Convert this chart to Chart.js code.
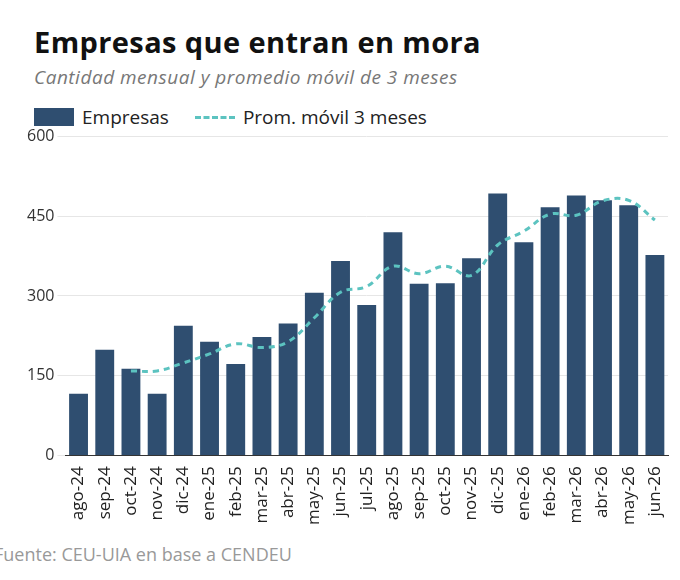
<!DOCTYPE html>
<html>
<head>
<meta charset="utf-8">
<script src="https://cdn.jsdelivr.net/npm/chart.js@4"></script>
<style>
  body { margin: 0; width: 680px; height: 580px; background: #fff; font-family: "Open Sans", sans-serif; overflow: hidden; position: relative; }
  h1 { position: absolute; left: 34px; top: 22px; margin: 0; font-size: 29px; font-weight: 700; color: #111; letter-spacing: 0.4px; }
  .sub { position: absolute; left: 34px; top: 64px; font-size: 19px; font-style: italic; color: #777; letter-spacing: 0.5px; }
  .legend { position: absolute; left: 34px; top: 104px; font-size: 19px; color: #222; display: flex; align-items: center; }
  .box { width: 40px; height: 18px; background: #2f4e70; margin-right: 8px; }
  .dash { width: 40px; border-top: 3px dashed #5cc3c0; margin: 0 8px 0 26px; }
  .foot { position: absolute; left: -6px; top: 542px; font-size: 18px; color: #999; }
  #wrap { position: absolute; left: 0; top: 124px; width: 680px; height: 404px; }
</style>
</head>
<body>
<h1>Empresas que entran en mora</h1>
<div class="sub">Cantidad mensual y promedio móvil de 3 meses</div>
<div class="legend"><span class="box"></span>Empresas<span class="dash"></span>Prom. móvil 3 meses</div>
<div id="wrap"><canvas id="c"></canvas></div>
<div class="foot">Fuente: CEU-UIA en base a CENDEU</div>
<script>
const months = ["ago-24","sep-24","oct-24","nov-24","dic-24","ene-25","feb-25","mar-25","abr-25","may-25","jun-25","jul-25","ago-25","sep-25","oct-25","nov-25","dic-25","ene-26","feb-26","mar-26","abr-26","may-26","jun-26"];
const empresas = [116,199,163,116,244,214,172,223,248,306,366,283,420,323,324,371,493,401,467,489,480,471,377];
const promedio = [null,null,159,159,174,191,210,203,214,259,307,318,356,342,356,339,396,422,454,452,479,480,443];
const yTicks = [0,150,300,450,600];

new Chart(document.getElementById("c"), {
  data: {
    labels: months,
    datasets: [
      { type: "line", data: promedio, borderColor: "#5cc3c0", borderWidth: 3, borderDash: [6, 5], pointRadius: 0, tension: 0.4, order: 0 },
      { type: "bar", data: empresas, backgroundColor: "#2f4e70", categoryPercentage: 0.72, barPercentage: 1, order: 1 }
    ]
  },
  options: {
    responsive: true,
    maintainAspectRatio: false,
    animation: false,
    layout: { padding: { left: 24, right: 12, top: 0 } },
    plugins: { legend: { display: false }, tooltip: { enabled: false } },
    scales: {
      x: {
        grid: { display: false },
        border: { color: "#333" },
        ticks: { color: "#222", font: { family: "Open Sans", size: 17 }, maxRotation: 90, minRotation: 90, autoSkip: false }
      },
      y: {
        min: 0, max: 600,
        afterBuildTicks: ax => { ax.ticks = yTicks.map(v => ({ value: v })); },
        grid: { color: "#e6e6e6" },
        border: { display: false },
        ticks: { color: "#333", font: { family: "Open Sans", size: 16 } }
      }
    }
  }
});
</script>
</body>
</html>
